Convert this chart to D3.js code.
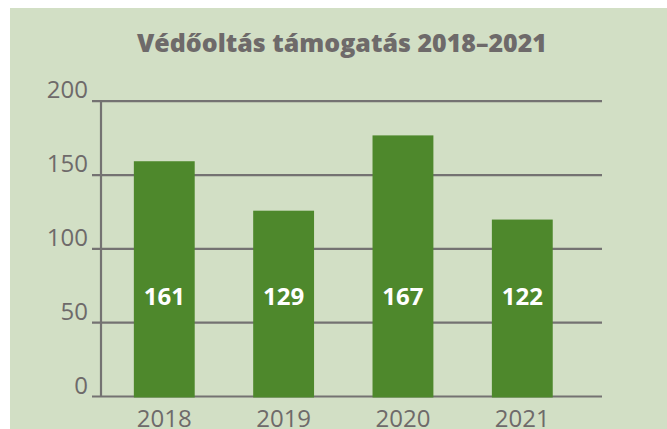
<!DOCTYPE html>
<html>
<head>
<meta charset="utf-8">
<script src="https://cdn.jsdelivr.net/npm/d3@7"></script>
<style>
  body { margin: 0; background: #ffffff; }
  svg { display: block; }
</style>
</head>
<body>
<div id="chart"></div>
<script>
// data
var years = ["2018", "2019", "2020", "2021"];
var barHeights = [159, 125.5, 176.5, 119.5];   // heights the bars are drawn at
var barLabels = ["161", "129", "167", "122"];   // numbers printed on the bars
var yTicks = [0, 50, 100, 150, 200];
var title = "Védőoltás támogatás 2018–2021";

function init() {
    var W = 667, H = 429;
    var left = 101, right = 602, top = 100.7, bottom = 396;

    var svg = d3.select("#chart")
        .append("svg")
        .attr("width", W)
        .attr("height", H);

    // green panel
    svg.append("rect")
        .attr("x", 10).attr("y", 8)
        .attr("width", W - 10).attr("height", H - 8)
        .attr("fill", "#d2dfc5");

    var xScale = d3.scaleBand()
        .domain(years)
        .range([left, right])
        .paddingInner(0.49)
        .paddingOuter(0.344)
        .align(0.4);

    var yScale = d3.scaleLinear()
        .domain([0, 200])
        .range([bottom, top]);

    // title
    svg.append("text")
        .attr("x", 342)
        .attr("y", 52)
        .attr("text-anchor", "middle")
        .attr("font-family", "'Open Sans', sans-serif")
        .attr("font-weight", 800)
        .attr("font-size", "25.5px")
        .attr("textLength", 410)
        .attr("lengthAdjust", "spacingAndGlyphs")
        .attr("fill", "#6e6a6a")
        .text(title);

    // y axis with gridlines
    var yAxis = d3.axisLeft(yScale)
        .tickValues(yTicks)
        .tickSize(-(right - left))
        .tickSizeOuter(0);

    var gy = svg.append("g")
        .attr("transform", "translate(" + left + ",0)")
        .call(yAxis);
    gy.select(".domain").remove();
    gy.selectAll(".tick line")
        .attr("x1", -9)
        .attr("stroke", "#747272")
        .attr("stroke-width", 2.2);
    gy.selectAll(".tick text")
        .attr("x", -13)
        .attr("dy", "-0.12em")
        .attr("font-family", "'Open Sans', sans-serif")
        .attr("font-size", "24px")
        .attr("fill", "#6e6a6a");

    // vertical axis line
    svg.append("line")
        .attr("x1", left).attr("x2", left)
        .attr("y1", top).attr("y2", bottom)
        .attr("stroke", "#747272")
        .attr("stroke-width", 2.2);

    // bars
    svg.selectAll("rect.bar")
        .data(barHeights)
        .enter()
        .append("rect")
        .attr("class", "bar")
        .attr("x", function(d, i) { return xScale(years[i]); })
        .attr("y", function(d) { return yScale(d); })
        .attr("width", xScale.bandwidth())
        .attr("height", function(d) { return yScale(0) - yScale(d) + 1.5; })
        .attr("fill", "#4e882c");

    // labels on bars
    svg.selectAll("text.val")
        .data(barLabels)
        .enter()
        .append("text")
        .attr("class", "val")
        .attr("x", function(d, i) { return xScale(years[i]) + xScale.bandwidth() / 2; })
        .attr("y", yScale(0) - 91)
        .attr("text-anchor", "middle")
        .attr("font-family", "'Open Sans', sans-serif")
        .attr("font-weight", 700)
        .attr("font-size", "24px")
        .attr("fill", "#ffffff")
        .text(function(d) { return d; });

    // x axis labels
    var xAxis = d3.axisBottom(xScale).tickSize(0);
    var gx = svg.append("g")
        .attr("transform", "translate(0," + bottom + ")")
        .call(xAxis);
    gx.select(".domain").remove();
    gx.selectAll(".tick text")
        .attr("y", 31)
        .attr("dy", 0)
        .attr("font-family", "'Open Sans', sans-serif")
        .attr("font-size", "24px")
        .attr("fill", "#6e6a6a");
}

window.onload = init;
</script>
</body>
</html>
